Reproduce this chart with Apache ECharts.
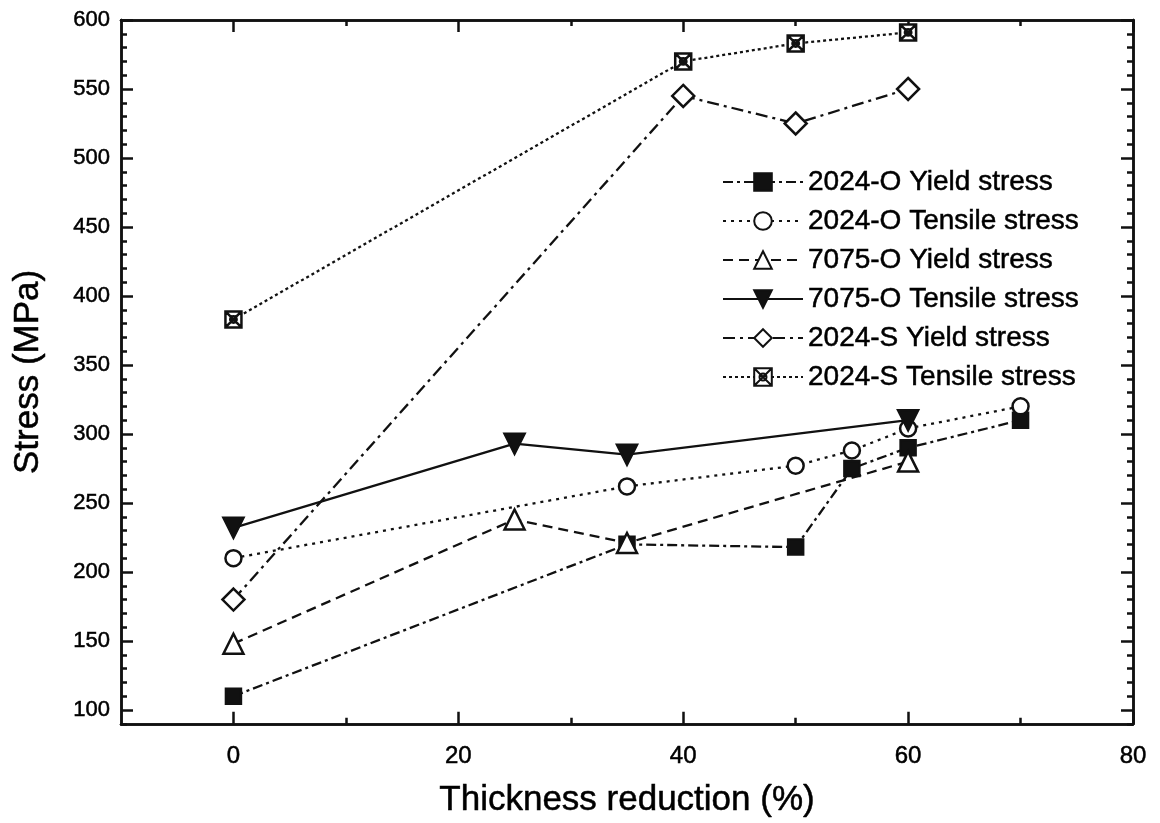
<!DOCTYPE html>
<html>
<head>
<meta charset="utf-8">
<script src="https://cdn.jsdelivr.net/npm/echarts@6/dist/echarts.min.js"></script>
<style>html,body{margin:0;padding:0;background:#fff}#c{width:1160px;height:823px}</style>
</head>
<body>
<div id="c"></div>
<script>
// Data (Thickness reduction %, Stress MPa)
const seriesNames = [
  '2024-O Yield stress',
  '2024-O Tensile stress',
  '7075-O Yield stress',
  '7075-O Tensile stress',
  '2024-S Yield stress',
  '2024-S Tensile stress'
];
const al2024OYield   = [[0,110],[35,220],[50,218],[55,275],[60,290],[70,310]];
const al2024OTensile = [[0,210],[35,262],[50,277],[55,288],[60,304],[70,320]];
const al7075OYield   = [[0,148],[25,238],[35,221],[60,280]];
const al7075OTensile = [[0,232],[25,293],[35,285],[60,310]];
const al2024SYield   = [[0,180],[40,545],[50,525],[60,550]];
const al2024STensile = [[0,383],[40,570],[50,583],[60,591]];

const xMajorTicks = [0,20,40,60,80];
const xMinorTicks = [10,30,50,70];
const yMajorTicks = [100,150,200,250,300,350,400,450,500,550,600];
const yMinorTicks = [];
for (let v = 90; v < 600; v += 10) { if (v % 50 !== 0) yMinorTicks.push(v); }

const FONT = '"Liberation Sans", Arial, Helvetica, sans-serif';
const INK = '#111';
const TXT = { color: '#000', fontFamily: FONT, textBorderColor: '#000', textBorderWidth: 0.5 };

const crossSquare = 'path://M0,0 L20,0 L20,20 L0,20 Z M0,0 L20,20 M20,0 L0,20 M14,10 A4,4 0 1 1 6,10 A4,4 0 1 1 14,10 Z';

function axisX(pos, ticks, len, showLabel, extra) {
  return Object.assign({
    type: 'value', min: -10, max: 80, position: pos,
    axisLine: { show: true, onZero: false, lineStyle: { color: INK, width: 2.5 } },
    axisTick: { show: true, inside: true, length: len, customValues: ticks, lineStyle: { color: INK, width: 2.5 } },
    axisLabel: showLabel ? Object.assign({ show: true, customValues: ticks, margin: 21, fontSize: 24 }, TXT) : { show: false },
    splitLine: { show: false }
  }, extra || {});
}
function axisY(pos, ticks, len, showLabel, extra) {
  return Object.assign({
    type: 'value', min: 90, max: 600, position: pos,
    axisLine: { show: true, onZero: false, lineStyle: { color: INK, width: 2.5 } },
    axisTick: { show: true, inside: true, length: len, customValues: ticks, lineStyle: { color: INK, width: 2.5 } },
    axisLabel: showLabel ? Object.assign({ show: true, customValues: ticks, margin: 11, fontSize: 22 }, TXT) : { show: false },
    splitLine: { show: false }
  }, extra || {});
}

function mkSeries(name, data, symbol, size, fill, dash) {
  return {
    name: name, type: 'line', data: data, xAxisIndex: 0, yAxisIndex: 0,
    symbol: symbol, symbolSize: size,
    lineStyle: { color: INK, width: 2.3, type: dash },
    itemStyle: { color: fill, borderColor: INK, borderWidth: 2.5 },
    emphasis: { disabled: true }, z: 3
  };
}

const chart = echarts.init(document.getElementById('c'), null, { renderer: 'canvas' });
chart.setOption({
  animation: false,
  backgroundColor: '#fff',
  grid: { left: 121, right: 27, top: 20, bottom: 98, containLabel: false },
  xAxis: [
    axisX('bottom', xMajorTicks, 12, true, {
      name: 'Thickness reduction (%)', nameLocation: 'middle', nameGap: 59,
      nameTextStyle: Object.assign({ fontSize: 35 }, TXT)
    }),
    axisX('bottom', xMinorTicks, 6, false),
    axisX('top', xMajorTicks, 12, false),
    axisX('top', xMinorTicks, 6, false)
  ],
  yAxis: [
    axisY('left', yMajorTicks, 12, true, {
      name: 'Stress (MPa)', nameLocation: 'middle', nameGap: 75,
      nameTextStyle: Object.assign({ fontSize: 35 }, TXT)
    }),
    axisY('left', yMinorTicks, 6, false),
    axisY('right', yMajorTicks, 12, false),
    axisY('right', yMinorTicks, 6, false)
  ],
  legend: {
    show: true, orient: 'vertical', left: 717, top: 162,
    itemWidth: 80, itemHeight: 22, itemGap: 9,
    textStyle: Object.assign({ fontSize: 28, lineHeight: 30 }, TXT),
    data: seriesNames
  },
  series: [
    mkSeries(seriesNames[0], al2024OYield, 'rect', 15, INK, [10,4,3,4]),
    mkSeries(seriesNames[1], al2024OTensile, 'circle', 16, '#fff', [3,5]),
    mkSeries(seriesNames[2], al7075OYield, 'triangle', 20, '#fff', [10,6]),
    Object.assign(mkSeries(seriesNames[3], al7075OTensile, 'triangle', 20, INK, 'solid'), { symbolRotate: 180 }),
    mkSeries(seriesNames[4], al2024SYield, 'diamond', 22, '#fff', [12,5,3,5]),
    mkSeries(seriesNames[5], al2024STensile, crossSquare, 16, '#fff', [3,3])
  ]
});
</script>
</body>
</html>
